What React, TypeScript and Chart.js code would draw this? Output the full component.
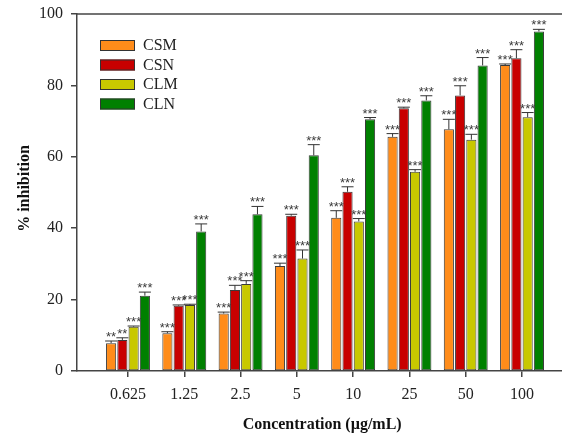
import React, { useEffect, useRef } from 'react';
import { Chart, registerables } from 'chart.js';
Chart.register(...registerables);

const categories = ['0.625', '1.25', '2.5', '5', '10', '25', '50', '100'];
const seriesNames = ['CSM', 'CSN', 'CLM', 'CLN'];
const colors = ['#FF8C1A', '#C80000', '#C8C800', '#008000'];

const csm = [7.8, 10.6, 16.1, 29.4, 42.9, 65.6, 67.7, 85.7];
const csmErr = [0.6, 0.4, 0.4, 0.8, 2.0, 0.9, 2.8, 0.3];
const csn = [8.7, 18.3, 22.7, 43.5, 50.2, 73.6, 77.2, 87.6];
const csnErr = [0.6, 0.2, 1.3, 0.4, 1.4, 0.3, 2.7, 2.4];
const clm = [12.4, 18.5, 24.4, 31.5, 41.9, 55.8, 64.8, 71.1];
const clmErr = [0.2, 0.2, 0.9, 2.4, 0.8, 0.6, 1.5, 1.3];
const cln = [21.1, 39.1, 43.9, 60.4, 70.5, 75.8, 85.6, 95.1];
const clnErr = [1.0, 2.1, 2.2, 3.0, 0.5, 1.3, 2.2, 0.6];

const csmSig = ['**', '***', '***', '***', '***', '***', '***', '***'];
const csnSig = ['**', '***', '***', '***', '***', '***', '***', '***'];
const clmSig = ['***', '***', '***', '***', '***', '***', '***', '***'];
const clnSig = ['***', '***', '***', '***', '***', '***', '***', '***'];

const yTicks = [0, 20, 40, 60, 80, 100];
const xTitle = 'Concentration (\u00b5g/mL)';
const yTitle = '% inhibition';

const seriesValues = [csm, csn, clm, cln];
const seriesErrors = [csmErr, csnErr, clmErr, clnErr];
const seriesSig = [csmSig, csnSig, clmSig, clnSig];

const SERIF = '"Liberation Serif", "Times New Roman", serif';
const AXIS = '#444444';

const decorPlugin = {
  id: 'decor',
  afterDatasetsDraw(chart: any) {
    const ctx = chart.ctx;
    const yScale = chart.scales.y;
    ctx.save();
    chart.data.datasets.forEach((ds: any, di: number) => {
      const meta = chart.getDatasetMeta(di);
      meta.data.forEach((bar: any, i: number) => {
        const v = seriesValues[di][i];
        const e = seriesErrors[di][i];
        const top = yScale.getPixelForValue(v);
        const capY = yScale.getPixelForValue(v + e);
        ctx.strokeStyle = '#333';
        ctx.lineWidth = 1;
        ctx.beginPath();
        ctx.moveTo(bar.x, top);
        ctx.lineTo(bar.x, capY);
        ctx.moveTo(bar.x - 6, capY);
        ctx.lineTo(bar.x + 6, capY);
        ctx.stroke();
        ctx.fillStyle = '#3a3a3a';
        ctx.font = '13px "Liberation Sans", Arial, sans-serif';
        ctx.textAlign = 'center';
        ctx.textBaseline = 'alphabetic';
        ctx.fillText(seriesSig[di][i], bar.x, capY);
      });
    });
    ctx.restore();
  },
  afterDraw(chart: any) {
    const ctx = chart.ctx;
    const area = chart.chartArea;
    const xScale = chart.scales.x;
    ctx.save();
    // top frame line
    ctx.strokeStyle = AXIS;
    ctx.lineWidth = 1.5;
    ctx.beginPath();
    ctx.moveTo(area.left, area.top);
    ctx.lineTo(area.right, area.top);
    ctx.stroke();
    // legend
    ctx.font = '16px ' + SERIF;
    ctx.textAlign = 'left';
    ctx.textBaseline = 'middle';
    seriesNames.forEach((name, i) => {
      const bx = area.left + 23;
      const by = area.top + 26 + i * 19.5;
      ctx.fillStyle = colors[i];
      ctx.fillRect(bx, by, 35, 11);
      ctx.strokeStyle = '#333';
      ctx.lineWidth = 1;
      ctx.strokeRect(bx + 0.5, by + 0.5, 34, 10);
      ctx.fillStyle = '#222';
      ctx.fillText(name, bx + 43, by + 6);
    });
    // x title
    ctx.font = 'bold 16px ' + SERIF;
    ctx.textAlign = 'center';
    ctx.textBaseline = 'middle';
    ctx.fillStyle = '#111';
    ctx.fillText(xTitle, xScale.getPixelForValue(4.45), area.bottom + 54);
    // y title
    ctx.translate(25, (area.top + area.bottom) / 2 - 4);
    ctx.rotate(-Math.PI / 2);
    ctx.fillText(yTitle, 0, 0);
    ctx.restore();
  },
};

export default function App() {
  const ref = useRef<HTMLCanvasElement | null>(null);
  useEffect(() => {
    if (!ref.current) return;
    const chart = new Chart(ref.current, {
      type: 'bar',
      data: {
        datasets: seriesNames.map((name, di) => ({
          label: name,
          data: seriesValues[di].map((v, i) => ({ x: i + 1, y: v })),
          backgroundColor: colors[di],
          borderColor: '#3a3a3a',
          borderWidth: 1,
          borderSkipped: false,
          categoryPercentage: 0.8,
          barPercentage: 0.9,
        })),
      },
      options: {
        responsive: false,
        animation: false,
        layout: { padding: { left: 0, top: 14, right: 0, bottom: 0 } },
        plugins: { legend: { display: false }, tooltip: { enabled: false } },
        scales: {
          x: {
            type: 'linear',
            offset: false,
            min: 0.094,
            max: 8.71,
            afterBuildTicks: (scale: any) => {
              scale.ticks = categories.map((_, i) => ({ value: i + 1 }));
            },
            afterFit: (scale: any) => {
              scale.height = 67;
              scale.paddingLeft = 0;
              scale.paddingRight = 0;
            },
            ticks: {
              callback: (v: any) => categories[Math.round(v) - 1] ?? '',
              font: { family: SERIF, size: 16 },
              color: '#222',
              padding: 8,
              maxRotation: 0,
              autoSkip: false,
            },
            grid: { offset: false, drawOnChartArea: false, drawTicks: true, tickLength: 6, color: AXIS, lineWidth: 1.5 },
            border: { display: true, color: AXIS, width: 1.5 },
          },
          y: {
            min: 0,
            max: 100,
            afterBuildTicks: (scale: any) => {
              scale.ticks = yTicks.map((v) => ({ value: v }));
            },
            afterFit: (scale: any) => {
              scale.width = 77;
              scale.paddingTop = 0;
              scale.paddingBottom = 0;
            },
            ticks: {
              font: { family: SERIF, size: 16 },
              color: '#222',
              padding: 8,
            },
            grid: { drawOnChartArea: false, drawTicks: true, tickLength: 6, color: AXIS, lineWidth: 1.5 },
            border: { display: true, color: AXIS, width: 1.5 },
          },
        },
      },
      plugins: [decorPlugin],
    } as any);
    return () => chart.destroy();
  }, []);
  return (
    <div style={{ position: 'fixed', left: 0, top: 0, width: 562, height: 438, background: '#fff' }}>
      <canvas ref={ref} width={562} height={438} style={{ display: 'block' }} />
    </div>
  );
}
